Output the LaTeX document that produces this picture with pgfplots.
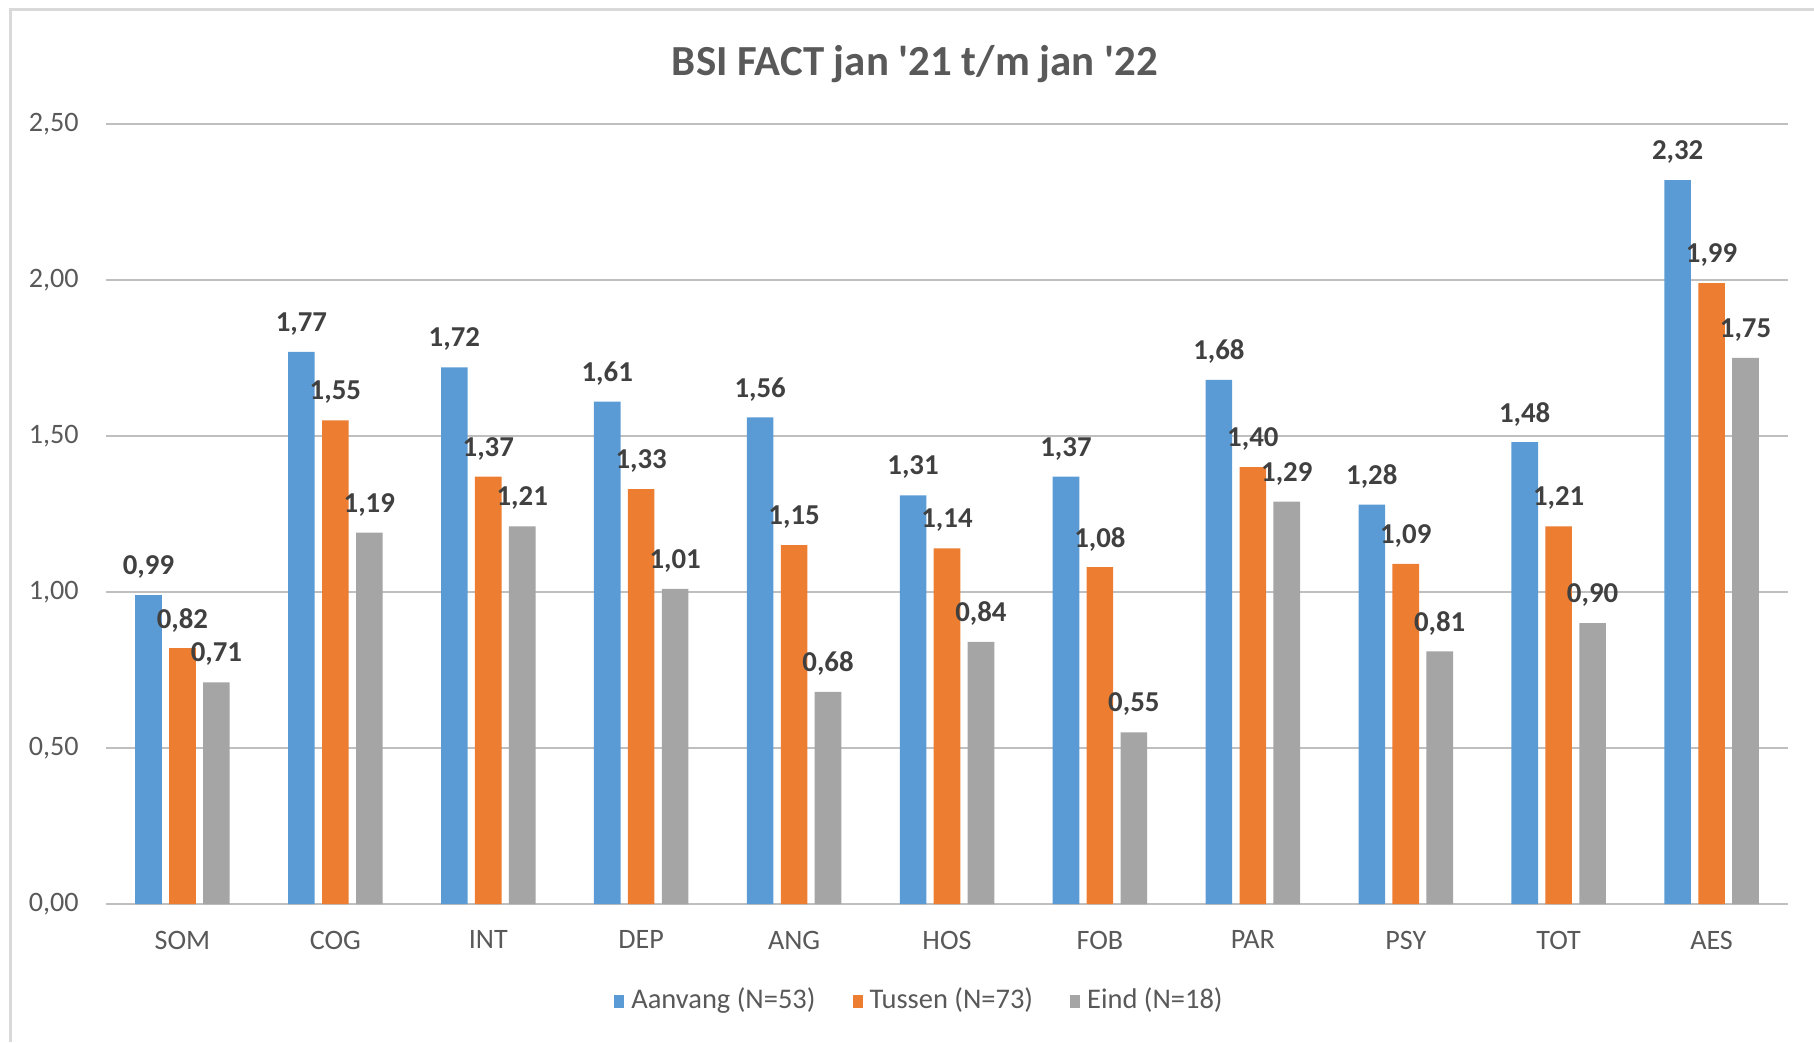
\documentclass[border=0pt]{standalone}
\usepackage{pgfplots}
\pgfplotsset{compat=1.18}
\usepackage{fontspec}
\setmainfont{Carlito}
\definecolor{cblue}{HTML}{5B9BD5}
\definecolor{corange}{HTML}{ED7D31}
\definecolor{cgray}{HTML}{A5A5A5}
\definecolor{grid}{HTML}{D9D9D9}
\definecolor{txt}{HTML}{595959}
\definecolor{lbl}{HTML}{404040}
\begin{document}
\begin{tikzpicture}
\useasboundingbox (-1.06,-1.38) rectangle (17.08,9.04);
\draw[grid, line width=0.03cm] (-0.95,-1.38) -- (-0.95,8.94) -- (17.08,8.94);
\node[font=\fontsize{12.2}{14}\selectfont\bfseries, text=txt] at (8.09,8.40) {BSI FACT jan \textquotesingle 21 t/m jan \textquotesingle 22};
\begin{axis}[
  at={(0,0)}, anchor=south west,
  scale only axis, width=16.82cm, height=7.80cm,
  xmin=-0.5, xmax=10.5, ymin=0, ymax=2.5,
  ytick={0,0.5,1,1.5,2,2.5},
  xtick=data,
  xticklabels={SOM,COG,INT,DEP,ANG,HOS,FOB,PAR,PSY,TOT,AES},
  axis line style={draw=none},
  xmajorgrids=false, ymajorgrids=true, grid style={grid, line width=0.023cm},
  major tick length=0pt,
  tick style={draw=none},
  tick label style={font=\fontsize{8}{10}\selectfont, text=txt},
  /pgf/number format/assume math mode=true,
  /pgf/number format/use comma,
  /pgf/number format/fixed,
  /pgf/number format/fixed zerofill,
  /pgf/number format/precision=2,
  xticklabel style={yshift=-0.145cm},
  yticklabel style={xshift=-0.15cm},
  ybar, bar width=0.174,
  nodes near coords,
  nodes near coords style={font=\fontsize{8.2}{10}\selectfont\bfseries, text=lbl, anchor=center, yshift=0.28cm},
  legend style={at={(8.16cm,-0.97cm)}, anchor=center, draw=none, legend columns=-1,
    font=\fontsize{8.1}{10}\selectfont, text=txt,
    /tikz/every even column/.append style={column sep=0.3cm}},
  legend image code/.code={\fill[#1] (0cm,-0.065cm) rectangle (0.1cm,0.065cm);},
]
\addplot[fill=cblue, draw=none, bar shift=-0.222] coordinates {
(0,0.99) (1,1.77) (2,1.72) (3,1.61) (4,1.56) (5,1.31) (6,1.37) (7,1.68) (8,1.28) (9,1.48) (10,2.32)};
\addplot[fill=corange, draw=none, bar shift=0] coordinates {
(0,0.82) (1,1.55) (2,1.37) (3,1.33) (4,1.15) (5,1.14) (6,1.08) (7,1.40) (8,1.09) (9,1.21) (10,1.99)};
\addplot[fill=cgray, draw=none, bar shift=0.222] coordinates {
(0,0.71) (1,1.19) (2,1.21) (3,1.01) (4,0.68) (5,0.84) (6,0.55) (7,1.29) (8,0.81) (9,0.90) (10,1.75)};
\legend{Aanvang (N=53), Tussen (N=73), Eind (N=18)}
\end{axis}
\end{tikzpicture}
\end{document}
